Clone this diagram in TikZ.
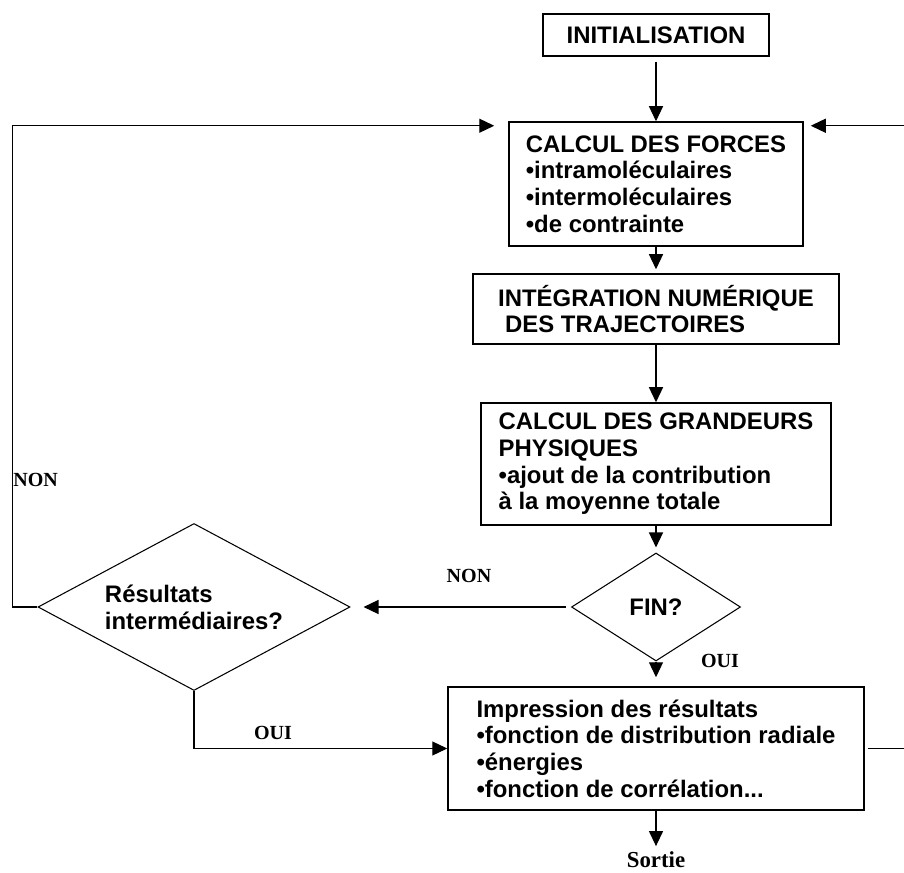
\documentclass[tikz,border=0pt]{standalone}
\usepackage{fontspec}
\setmainfont{Liberation Serif}
\newfontfamily\arialfont{Liberation Sans}
\usetikzlibrary{arrows.meta,shapes.geometric}

\begin{document}
\begin{tikzpicture}[
  box/.style={draw=black,line width=0.85pt,align=left,font=\arialfont\bfseries\fontsize{13.6}{15.2}\selectfont,inner sep=0pt},
  decision/.style={draw=black,line width=0.6pt,diamond,aspect=1.6,align=left,font=\arialfont\bfseries\fontsize{13.6}{15.2}\selectfont,inner sep=0pt},
  arr/.style={-{Triangle[length=0.3cm,width=0.28cm]},draw=black,line width=0.7pt},
  lbl/.style={font=\bfseries\fontsize{11.4}{13}\selectfont,inner sep=0pt}
]
\useasboundingbox (-13.12,-5.30) rectangle (4.96,12.14);
\node[box,align=center,minimum width=4.52cm,minimum height=0.84cm] (init) at (0,11.44) {INITIALISATION};
\node[box,minimum width=5.88cm,minimum height=2.48cm] (forces) at (0,8.46) {
  CALCUL DES FORCES\\
  •intramoléculaires\\
  •intermoléculaires\\
  •de contrainte
};
\node[box,minimum width=7.32cm,minimum height=1.40cm] (integ) at (0,5.96) {
  INTÉGRATION NUMÉRIQUE\\
  \hspace*{0.14cm}DES TRAJECTOIRES
};
\node[box,minimum width=7.00cm,minimum height=2.44cm] (grand) at (0,2.86) {
  CALCUL DES GRANDEURS\\
  PHYSIQUES\\
  •ajout de la contribution\\
  à la moyenne totale
};
\node[decision,minimum width=3.38cm,minimum height=2.16cm] (fin) at (0,0) {FIN?};
\node[decision,minimum width=6.24cm,minimum height=3.34cm] (result) at (-9.24,0) {
  Résultats\\
  intermédiaires?
};
\node[box,minimum width=8.32cm,minimum height=2.46cm] (impr) at (0,-2.83) {
  Impression des résultats\\
  •fonction de distribution radiale\\
  •énergies\\
  •fonction de corrélation...
};
\node[lbl,font=\bfseries\fontsize{13}{15}\selectfont] (sortie) at (0,-5.05) {Sortie};
\node[lbl,anchor=west] (nonloop) at (-12.86,2.54) {NON};
\node[lbl] (nonfin) at (-3.74,0.62) {NON};
\node[lbl] (ouifin) at (1.28,-1.08) {OUI};
\node[lbl] (ouires) at (-7.66,-2.52) {OUI};
\draw[arr,shorten <=0.1cm] (init) -- (forces);
\draw[arr,shorten >=0.08cm] (forces) -- (integ);
\draw[arr] (integ) -- (grand);
\draw[arr,shorten >=0.1cm] (grand) -- (fin);
\draw[arr,shorten <=0.1cm,shorten >=0.26cm] (fin) -- (result);
\draw[arr,shorten >=0.18cm] (fin) -- (impr);
\draw[arr] (result.south) |- (impr.west);
\draw[arr,shorten >=0.28cm] (result.west) -- ++(-0.5,0) |- ([yshift=-0.09cm]forces.north west);
\draw[arr,shorten <=0.06cm,shorten >=0.14cm] (impr.east) -- ++(0.9,0) |- ([yshift=-0.09cm]forces.north east);
\draw[arr,shorten >=0.1cm] (impr) -- (sortie);
\end{tikzpicture}
\end{document}
